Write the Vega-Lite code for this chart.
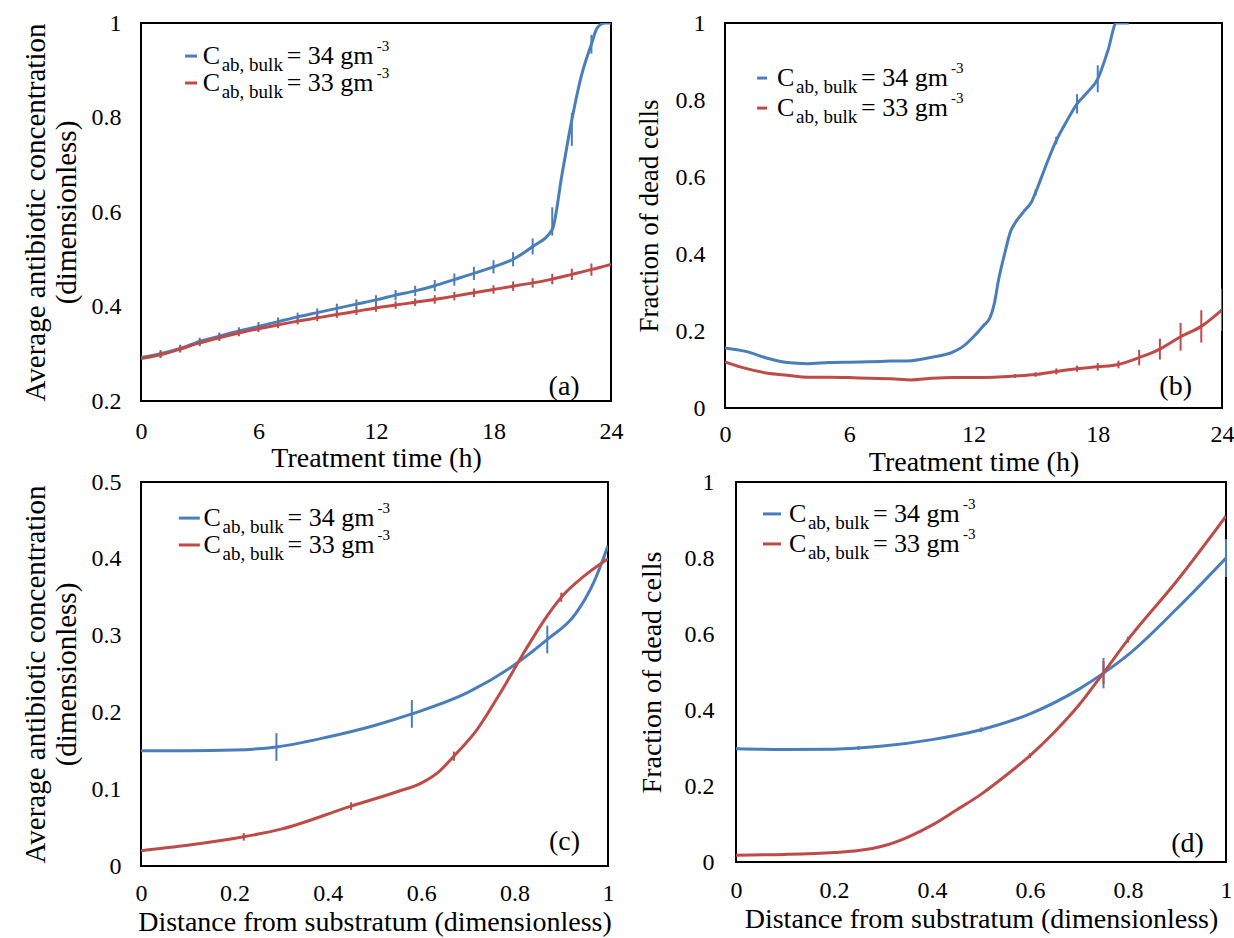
{
 "$schema": "https://vega.github.io/schema/vega-lite/v6.json",
 "background": "white",
 "padding": {"left": 20, "top": 10, "right": 0, "bottom": 0},
 "config": {
  "font": "Liberation Serif, Times New Roman, serif",
  "view": {"stroke": "#000000", "strokeWidth": 2},
  "axis": {"grid": false, "domain": false, "ticks": false, "labelColor": "#000000", "titleColor": "#000000", "labelFont": "Liberation Serif, Times New Roman, serif", "titleFont": "Liberation Serif, Times New Roman, serif", "titleFontWeight": "normal", "labelFontSize": 24, "titleFontSize": 28, "labelFlush": false, "labelOverlap": false, "format": "~g"},
  "text": {"font": "Liberation Serif, Times New Roman, serif", "color": "#000000"}
 },
 "datasets": {
  "one": [{}],
  "a": [
   {"s":"34","x":0,"y":0.292},{"s":"34","x":1,"y":0.300,"lo":0.292,"hi":0.308},{"s":"34","x":2,"y":0.311,"lo":0.303,"hi":0.319},{"s":"34","x":3,"y":0.326,"lo":0.318,"hi":0.334},{"s":"34","x":4,"y":0.337,"lo":0.329,"hi":0.345},{"s":"34","x":5,"y":0.348,"lo":0.340,"hi":0.356},{"s":"34","x":6,"y":0.358,"lo":0.349,"hi":0.367},{"s":"34","x":7,"y":0.368,"lo":0.359,"hi":0.377},{"s":"34","x":8,"y":0.378,"lo":0.369,"hi":0.387},{"s":"34","x":9,"y":0.387,"lo":0.378,"hi":0.396},{"s":"34","x":10,"y":0.396,"lo":0.386,"hi":0.406},{"s":"34","x":11,"y":0.405,"lo":0.395,"hi":0.415},{"s":"34","x":12,"y":0.414,"lo":0.404,"hi":0.424},{"s":"34","x":13,"y":0.424,"lo":0.413,"hi":0.435},{"s":"34","x":14,"y":0.433,"lo":0.422,"hi":0.444},{"s":"34","x":15,"y":0.444,"lo":0.432,"hi":0.456},{"s":"34","x":16,"y":0.457,"lo":0.444,"hi":0.470},{"s":"34","x":17,"y":0.470,"lo":0.456,"hi":0.484},{"s":"34","x":18,"y":0.484,"lo":0.470,"hi":0.498},{"s":"34","x":19,"y":0.500,"lo":0.485,"hi":0.515},{"s":"34","x":20,"y":0.527,"lo":0.510,"hi":0.544},{"s":"34","x":21,"y":0.563,"lo":0.550,"hi":0.610},{"s":"34","x":21.5,"y":0.68},{"s":"34","x":22,"y":0.795,"lo":0.740,"hi":0.810},{"s":"34","x":22.5,"y":0.89},{"s":"34","x":23,"y":0.955,"lo":0.935,"hi":0.975},{"s":"34","x":23.3,"y":0.99},{"s":"34","x":23.7,"y":1.0},{"s":"34","x":24,"y":1.0},
   {"s":"33","x":0,"y":0.290},{"s":"33","x":1,"y":0.298,"lo":0.291,"hi":0.305},{"s":"33","x":2,"y":0.310,"lo":0.303,"hi":0.317},{"s":"33","x":3,"y":0.323,"lo":0.316,"hi":0.330},{"s":"33","x":4,"y":0.334,"lo":0.327,"hi":0.341},{"s":"33","x":5,"y":0.344,"lo":0.337,"hi":0.351},{"s":"33","x":6,"y":0.353,"lo":0.346,"hi":0.360},{"s":"33","x":7,"y":0.361,"lo":0.354,"hi":0.368},{"s":"33","x":8,"y":0.369,"lo":0.362,"hi":0.376},{"s":"33","x":9,"y":0.376,"lo":0.369,"hi":0.383},{"s":"33","x":10,"y":0.383,"lo":0.376,"hi":0.390},{"s":"33","x":11,"y":0.390,"lo":0.382,"hi":0.398},{"s":"33","x":12,"y":0.397,"lo":0.389,"hi":0.405},{"s":"33","x":13,"y":0.403,"lo":0.395,"hi":0.411},{"s":"33","x":14,"y":0.409,"lo":0.401,"hi":0.417},{"s":"33","x":15,"y":0.415,"lo":0.406,"hi":0.424},{"s":"33","x":16,"y":0.422,"lo":0.413,"hi":0.431},{"s":"33","x":17,"y":0.429,"lo":0.420,"hi":0.438},{"s":"33","x":18,"y":0.436,"lo":0.427,"hi":0.445},{"s":"33","x":19,"y":0.443,"lo":0.433,"hi":0.453},{"s":"33","x":20,"y":0.450,"lo":0.440,"hi":0.460},{"s":"33","x":21,"y":0.458,"lo":0.447,"hi":0.469},{"s":"33","x":22,"y":0.468,"lo":0.456,"hi":0.480},{"s":"33","x":23,"y":0.478,"lo":0.465,"hi":0.491},{"s":"33","x":24,"y":0.489}
  ],
  "b": [
   {"s":"34","x":0,"y":0.156},{"s":"34","x":1,"y":0.147},{"s":"34","x":2,"y":0.130},{"s":"34","x":3,"y":0.118},{"s":"34","x":4,"y":0.115},{"s":"34","x":5,"y":0.118},{"s":"34","x":6,"y":0.119},{"s":"34","x":7,"y":0.120},{"s":"34","x":8,"y":0.122},{"s":"34","x":9,"y":0.123},{"s":"34","x":10,"y":0.132},{"s":"34","x":11,"y":0.145},{"s":"34","x":11.5,"y":0.160},{"s":"34","x":12,"y":0.185},{"s":"34","x":12.5,"y":0.215},{"s":"34","x":12.8,"y":0.235},{"s":"34","x":13,"y":0.27},{"s":"34","x":13.2,"y":0.33},{"s":"34","x":13.5,"y":0.40},{"s":"34","x":13.8,"y":0.46},{"s":"34","x":14,"y":0.48},{"s":"34","x":14.5,"y":0.515},{"s":"34","x":14.8,"y":0.535},{"s":"34","x":15,"y":0.56,"lo":0.552,"hi":0.568},{"s":"34","x":15.5,"y":0.63},{"s":"34","x":16,"y":0.695,"lo":0.685,"hi":0.705},{"s":"34","x":16.5,"y":0.745},{"s":"34","x":17,"y":0.79,"lo":0.765,"hi":0.815},{"s":"34","x":17.5,"y":0.82},{"s":"34","x":18,"y":0.855,"lo":0.82,"hi":0.89},{"s":"34","x":18.5,"y":0.93},{"s":"34","x":18.9,"y":1.0},{"s":"34","x":19.5,"y":1.0},
   {"s":"33","x":0,"y":0.120},{"s":"33","x":1,"y":0.103},{"s":"33","x":2,"y":0.091},{"s":"33","x":3,"y":0.085},{"s":"33","x":4,"y":0.080},{"s":"33","x":5,"y":0.080},{"s":"33","x":6,"y":0.079},{"s":"33","x":7,"y":0.077},{"s":"33","x":8,"y":0.076},{"s":"33","x":9,"y":0.073},{"s":"33","x":10,"y":0.077},{"s":"33","x":11,"y":0.079},{"s":"33","x":12,"y":0.079},{"s":"33","x":13,"y":0.080},{"s":"33","x":14,"y":0.083,"lo":0.078,"hi":0.088},{"s":"33","x":15,"y":0.087,"lo":0.081,"hi":0.093},{"s":"33","x":16,"y":0.095,"lo":0.087,"hi":0.103},{"s":"33","x":17,"y":0.102,"lo":0.094,"hi":0.110},{"s":"33","x":18,"y":0.107,"lo":0.097,"hi":0.117},{"s":"33","x":19,"y":0.113,"lo":0.103,"hi":0.123},{"s":"33","x":20,"y":0.131,"lo":0.111,"hi":0.151},{"s":"33","x":21,"y":0.153,"lo":0.126,"hi":0.180},{"s":"33","x":22,"y":0.185,"lo":0.149,"hi":0.221},{"s":"33","x":23,"y":0.212,"lo":0.170,"hi":0.254},{"s":"33","x":24,"y":0.255,"lo":0.200,"hi":0.310}
  ],
  "c": [
   {"s":"34","x":0,"y":0.150},{"s":"34","x":0.1,"y":0.150},{"s":"34","x":0.2,"y":0.151},{"s":"34","x":0.29,"y":0.155,"lo":0.137,"hi":0.173},{"s":"34","x":0.4,"y":0.168},{"s":"34","x":0.5,"y":0.183},{"s":"34","x":0.58,"y":0.198,"lo":0.180,"hi":0.216},{"s":"34","x":0.7,"y":0.226},{"s":"34","x":0.8,"y":0.262},{"s":"34","x":0.87,"y":0.295,"lo":0.277,"hi":0.313},{"s":"34","x":0.93,"y":0.328},{"s":"34","x":0.97,"y":0.37},{"s":"34","x":1.0,"y":0.417},
   {"s":"33","x":0,"y":0.020},{"s":"33","x":0.1,"y":0.027},{"s":"33","x":0.22,"y":0.038,"lo":0.033,"hi":0.043},{"s":"33","x":0.3,"y":0.048},{"s":"33","x":0.45,"y":0.078,"lo":0.073,"hi":0.083},{"s":"33","x":0.55,"y":0.097},{"s":"33","x":0.6,"y":0.108},{"s":"33","x":0.64,"y":0.124},{"s":"33","x":0.67,"y":0.143,"lo":0.137,"hi":0.149},{"s":"33","x":0.72,"y":0.178},{"s":"33","x":0.77,"y":0.226},{"s":"33","x":0.82,"y":0.278},{"s":"33","x":0.86,"y":0.317},{"s":"33","x":0.9,"y":0.350,"lo":0.344,"hi":0.356},{"s":"33","x":0.95,"y":0.378},{"s":"33","x":1.0,"y":0.400}
  ],
  "d": [
   {"s":"34","x":0,"y":0.298},{"s":"34","x":0.1,"y":0.296},{"s":"34","x":0.2,"y":0.297},{"s":"34","x":0.25,"y":0.300,"lo":0.295,"hi":0.305},{"s":"34","x":0.3,"y":0.305},{"s":"34","x":0.4,"y":0.322},{"s":"34","x":0.5,"y":0.348,"lo":0.342,"hi":0.354},{"s":"34","x":0.6,"y":0.390},{"s":"34","x":0.7,"y":0.455},{"s":"34","x":0.75,"y":0.497,"lo":0.457,"hi":0.537},{"s":"34","x":0.8,"y":0.545},{"s":"34","x":0.9,"y":0.667},{"s":"34","x":1.0,"y":0.800,"lo":0.75,"hi":0.85},
   {"s":"33","x":0,"y":0.018},{"s":"33","x":0.1,"y":0.020},{"s":"33","x":0.2,"y":0.025},{"s":"33","x":0.25,"y":0.030},{"s":"33","x":0.3,"y":0.042},{"s":"33","x":0.35,"y":0.065},{"s":"33","x":0.4,"y":0.097},{"s":"33","x":0.45,"y":0.137},{"s":"33","x":0.5,"y":0.178},{"s":"33","x":0.55,"y":0.227},{"s":"33","x":0.6,"y":0.280,"lo":0.274,"hi":0.286},{"s":"33","x":0.65,"y":0.342},{"s":"33","x":0.7,"y":0.413},{"s":"33","x":0.75,"y":0.498,"lo":0.468,"hi":0.528},{"s":"33","x":0.8,"y":0.585,"lo":0.577,"hi":0.593},{"s":"33","x":0.9,"y":0.740},{"s":"33","x":1.0,"y":0.910}
  ]
 },
 "bounds": "full",
 "spacing": -8,
 "vconcat": [
  {
   "bounds": "flush",
   "spacing": 114,
   "hconcat": [
    {
     "width": 470, "height": 378,
     "layer": [
      {"data": {"name": "a"}, "mark": {"type": "line", "interpolate": "monotone", "strokeWidth": 3, "clip": true},
       "encoding": {
        "x": {"field": "x", "type": "quantitative", "scale": {"domain": [0, 24], "nice": false, "zero": false}, "axis": {"values": [0, 6, 12, 18, 24], "title": "Treatment time (h)", "labelPadding": 18, "titlePadding": 1}},
        "y": {"field": "y", "type": "quantitative", "scale": {"domain": [0.2, 1], "nice": false, "zero": false}, "axis": {"values": [0.2, 0.4, 0.6, 0.8, 1], "title": ["Average antibiotic concentration", "(dimensionless)"], "titleFontSize": 29, "labelPadding": 20, "titlePadding": 10}},
        "color": {"field": "s", "type": "nominal", "scale": {"domain": ["34", "33"], "range": ["#4a7ebb", "#be4b48"]}, "legend": null}}},
      {"data": {"name": "a"}, "transform": [{"filter": "isValid(datum.lo)"}], "mark": {"type": "rule", "strokeWidth": 2},
       "encoding": {"x": {"field": "x", "type": "quantitative"}, "y": {"field": "lo", "type": "quantitative"}, "y2": {"field": "hi"}, "color": {"field": "s", "type": "nominal", "legend": null}}},
      {"data": {"name": "one"}, "mark": {"type": "rule", "strokeWidth": 3, "color": "#4a7ebb"}, "encoding": {"x": {"datum": 2.25}, "x2": {"datum": 2.86}, "y": {"datum": 0.93}}},
      {"data": {"name": "one"}, "mark": {"type": "rule", "strokeWidth": 3, "color": "#be4b48"}, "encoding": {"x": {"datum": 2.25}, "x2": {"datum": 2.86}, "y": {"datum": 0.873}}},
      {"data": {"name": "one"}, "mark": {"type": "text", "text": "C", "align": "left", "baseline": "middle", "fontSize": 26}, "encoding": {"x": {"datum": 3.15}, "y": {"datum": 0.93}}},
      {"data": {"name": "one"}, "mark": {"type": "text", "text": "ab, bulk", "align": "left", "baseline": "middle", "fontSize": 19, "dx": 19, "dy": 9}, "encoding": {"x": {"datum": 3.15}, "y": {"datum": 0.93}}},
      {"data": {"name": "one"}, "mark": {"type": "text", "text": "= 34 gm", "align": "left", "baseline": "middle", "fontSize": 26, "dx": 84}, "encoding": {"x": {"datum": 3.15}, "y": {"datum": 0.93}}},
      {"data": {"name": "one"}, "mark": {"type": "text", "text": "-3", "align": "left", "baseline": "middle", "fontSize": 15, "dx": 174, "dy": -10}, "encoding": {"x": {"datum": 3.15}, "y": {"datum": 0.93}}},
      {"data": {"name": "one"}, "mark": {"type": "text", "text": "C", "align": "left", "baseline": "middle", "fontSize": 26}, "encoding": {"x": {"datum": 3.15}, "y": {"datum": 0.873}}},
      {"data": {"name": "one"}, "mark": {"type": "text", "text": "ab, bulk", "align": "left", "baseline": "middle", "fontSize": 19, "dx": 19, "dy": 9}, "encoding": {"x": {"datum": 3.15}, "y": {"datum": 0.873}}},
      {"data": {"name": "one"}, "mark": {"type": "text", "text": "= 33 gm", "align": "left", "baseline": "middle", "fontSize": 26, "dx": 84}, "encoding": {"x": {"datum": 3.15}, "y": {"datum": 0.873}}},
      {"data": {"name": "one"}, "mark": {"type": "text", "text": "-3", "align": "left", "baseline": "middle", "fontSize": 15, "dx": 174, "dy": -10}, "encoding": {"x": {"datum": 3.15}, "y": {"datum": 0.873}}},
      {"data": {"name": "one"}, "mark": {"type": "text", "text": "(a)", "align": "right", "baseline": "middle", "fontSize": 28}, "encoding": {"x": {"datum": 22.4}, "y": {"datum": 0.23}}}
     ]
    },
    {
     "width": 497, "height": 385,
     "layer": [
      {"data": {"name": "b"}, "mark": {"type": "line", "interpolate": "monotone", "strokeWidth": 3, "clip": true},
       "encoding": {
        "x": {"field": "x", "type": "quantitative", "scale": {"domain": [0, 24], "nice": false, "zero": false}, "axis": {"values": [0, 6, 12, 18, 24], "title": "Treatment time (h)", "labelPadding": 14, "titlePadding": 2}},
        "y": {"field": "y", "type": "quantitative", "scale": {"domain": [0, 1], "nice": false}, "axis": {"values": [0, 0.2, 0.4, 0.6, 0.8, 1], "title": "Fraction of dead cells", "titleFontSize": 27, "labelPadding": 20, "titlePadding": 12}},
        "color": {"field": "s", "type": "nominal", "scale": {"domain": ["34", "33"], "range": ["#4a7ebb", "#be4b48"]}, "legend": null}}},
      {"data": {"name": "b"}, "transform": [{"filter": "isValid(datum.lo)"}], "mark": {"type": "rule", "strokeWidth": 2, "clip": true},
       "encoding": {"x": {"field": "x", "type": "quantitative"}, "y": {"field": "lo", "type": "quantitative"}, "y2": {"field": "hi"}, "color": {"field": "s", "type": "nominal", "legend": null}}},
      {"data": {"name": "one"}, "mark": {"type": "rule", "strokeWidth": 3, "color": "#4a7ebb"}, "encoding": {"x": {"datum": 1.55}, "x2": {"datum": 2.03}, "y": {"datum": 0.857}}},
      {"data": {"name": "one"}, "mark": {"type": "rule", "strokeWidth": 3, "color": "#be4b48"}, "encoding": {"x": {"datum": 1.55}, "x2": {"datum": 2.03}, "y": {"datum": 0.779}}},
      {"data": {"name": "one"}, "mark": {"type": "text", "text": "C", "align": "left", "baseline": "middle", "fontSize": 26}, "encoding": {"x": {"datum": 2.51}, "y": {"datum": 0.857}}},
      {"data": {"name": "one"}, "mark": {"type": "text", "text": "ab, bulk", "align": "left", "baseline": "middle", "fontSize": 19, "dx": 19, "dy": 9}, "encoding": {"x": {"datum": 2.51}, "y": {"datum": 0.857}}},
      {"data": {"name": "one"}, "mark": {"type": "text", "text": "= 34 gm", "align": "left", "baseline": "middle", "fontSize": 26, "dx": 84}, "encoding": {"x": {"datum": 2.51}, "y": {"datum": 0.857}}},
      {"data": {"name": "one"}, "mark": {"type": "text", "text": "-3", "align": "left", "baseline": "middle", "fontSize": 15, "dx": 174, "dy": -10}, "encoding": {"x": {"datum": 2.51}, "y": {"datum": 0.857}}},
      {"data": {"name": "one"}, "mark": {"type": "text", "text": "C", "align": "left", "baseline": "middle", "fontSize": 26}, "encoding": {"x": {"datum": 2.51}, "y": {"datum": 0.779}}},
      {"data": {"name": "one"}, "mark": {"type": "text", "text": "ab, bulk", "align": "left", "baseline": "middle", "fontSize": 19, "dx": 19, "dy": 9}, "encoding": {"x": {"datum": 2.51}, "y": {"datum": 0.779}}},
      {"data": {"name": "one"}, "mark": {"type": "text", "text": "= 33 gm", "align": "left", "baseline": "middle", "fontSize": 26, "dx": 84}, "encoding": {"x": {"datum": 2.51}, "y": {"datum": 0.779}}},
      {"data": {"name": "one"}, "mark": {"type": "text", "text": "-3", "align": "left", "baseline": "middle", "fontSize": 15, "dx": 174, "dy": -10}, "encoding": {"x": {"datum": 2.51}, "y": {"datum": 0.779}}},
      {"data": {"name": "one"}, "mark": {"type": "text", "text": "(b)", "align": "right", "baseline": "middle", "fontSize": 28}, "encoding": {"x": {"datum": 22.55}, "y": {"datum": 0.055}}}
     ]
    }
   ]
  },
  {
   "bounds": "flush",
   "spacing": 128,
   "hconcat": [
    {
     "width": 467, "height": 384,
     "layer": [
      {"data": {"name": "c"}, "mark": {"type": "line", "interpolate": "monotone", "strokeWidth": 3, "clip": true},
       "encoding": {
        "x": {"field": "x", "type": "quantitative", "scale": {"domain": [0, 1], "nice": false}, "axis": {"values": [0, 0.2, 0.4, 0.6, 0.8, 1], "title": "Distance from substratum (dimensionless)", "labelPadding": 15, "titlePadding": 3}},
        "y": {"field": "y", "type": "quantitative", "scale": {"domain": [0, 0.5], "nice": false}, "axis": {"values": [0, 0.1, 0.2, 0.3, 0.4, 0.5], "title": ["Average antibiotic concentration", "(dimensionless)"], "titleFontSize": 29, "labelPadding": 20, "titlePadding": 10}},
        "color": {"field": "s", "type": "nominal", "scale": {"domain": ["34", "33"], "range": ["#4a7ebb", "#be4b48"]}, "legend": null}}},
      {"data": {"name": "c"}, "transform": [{"filter": "isValid(datum.lo)"}], "mark": {"type": "rule", "strokeWidth": 2},
       "encoding": {"x": {"field": "x", "type": "quantitative"}, "y": {"field": "lo", "type": "quantitative"}, "y2": {"field": "hi"}, "color": {"field": "s", "type": "nominal", "legend": null}}},
      {"data": {"name": "one"}, "mark": {"type": "rule", "strokeWidth": 3, "color": "#4a7ebb"}, "encoding": {"x": {"datum": 0.081}, "x2": {"datum": 0.126}, "y": {"datum": 0.453}}},
      {"data": {"name": "one"}, "mark": {"type": "rule", "strokeWidth": 3, "color": "#be4b48"}, "encoding": {"x": {"datum": 0.081}, "x2": {"datum": 0.126}, "y": {"datum": 0.418}}},
      {"data": {"name": "one"}, "mark": {"type": "text", "text": "C", "align": "left", "baseline": "middle", "fontSize": 26}, "encoding": {"x": {"datum": 0.134}, "y": {"datum": 0.453}}},
      {"data": {"name": "one"}, "mark": {"type": "text", "text": "ab, bulk", "align": "left", "baseline": "middle", "fontSize": 19, "dx": 19, "dy": 9}, "encoding": {"x": {"datum": 0.134}, "y": {"datum": 0.453}}},
      {"data": {"name": "one"}, "mark": {"type": "text", "text": "= 34 gm", "align": "left", "baseline": "middle", "fontSize": 26, "dx": 84}, "encoding": {"x": {"datum": 0.134}, "y": {"datum": 0.453}}},
      {"data": {"name": "one"}, "mark": {"type": "text", "text": "-3", "align": "left", "baseline": "middle", "fontSize": 15, "dx": 174, "dy": -10}, "encoding": {"x": {"datum": 0.134}, "y": {"datum": 0.453}}},
      {"data": {"name": "one"}, "mark": {"type": "text", "text": "C", "align": "left", "baseline": "middle", "fontSize": 26}, "encoding": {"x": {"datum": 0.134}, "y": {"datum": 0.418}}},
      {"data": {"name": "one"}, "mark": {"type": "text", "text": "ab, bulk", "align": "left", "baseline": "middle", "fontSize": 19, "dx": 19, "dy": 9}, "encoding": {"x": {"datum": 0.134}, "y": {"datum": 0.418}}},
      {"data": {"name": "one"}, "mark": {"type": "text", "text": "= 33 gm", "align": "left", "baseline": "middle", "fontSize": 26, "dx": 84}, "encoding": {"x": {"datum": 0.134}, "y": {"datum": 0.418}}},
      {"data": {"name": "one"}, "mark": {"type": "text", "text": "-3", "align": "left", "baseline": "middle", "fontSize": 15, "dx": 174, "dy": -10}, "encoding": {"x": {"datum": 0.134}, "y": {"datum": 0.418}}},
      {"data": {"name": "one"}, "mark": {"type": "text", "text": "(c)", "align": "right", "baseline": "middle", "fontSize": 28}, "encoding": {"x": {"datum": 0.94}, "y": {"datum": 0.031}}}
     ]
    },
    {
     "width": 490, "height": 380,
     "layer": [
      {"data": {"name": "d"}, "mark": {"type": "line", "interpolate": "monotone", "strokeWidth": 3, "clip": true},
       "encoding": {
        "x": {"field": "x", "type": "quantitative", "scale": {"domain": [0, 1], "nice": false}, "axis": {"values": [0, 0.2, 0.4, 0.6, 0.8, 1], "title": "Distance from substratum (dimensionless)", "labelPadding": 16, "titlePadding": 3}},
        "y": {"field": "y", "type": "quantitative", "scale": {"domain": [0, 1], "nice": false}, "axis": {"values": [0, 0.2, 0.4, 0.6, 0.8, 1], "title": "Fraction of dead cells", "labelPadding": 22, "titlePadding": 18}},
        "color": {"field": "s", "type": "nominal", "scale": {"domain": ["34", "33"], "range": ["#4a7ebb", "#be4b48"]}, "legend": null}}},
      {"data": {"name": "d"}, "transform": [{"filter": "isValid(datum.lo)"}], "mark": {"type": "rule", "strokeWidth": 2},
       "encoding": {"x": {"field": "x", "type": "quantitative"}, "y": {"field": "lo", "type": "quantitative"}, "y2": {"field": "hi"}, "color": {"field": "s", "type": "nominal", "legend": null}}},
      {"data": {"name": "one"}, "mark": {"type": "rule", "strokeWidth": 3, "color": "#4a7ebb"}, "encoding": {"x": {"datum": 0.055}, "x2": {"datum": 0.092}, "y": {"datum": 0.916}}},
      {"data": {"name": "one"}, "mark": {"type": "rule", "strokeWidth": 3, "color": "#be4b48"}, "encoding": {"x": {"datum": 0.055}, "x2": {"datum": 0.092}, "y": {"datum": 0.837}}},
      {"data": {"name": "one"}, "mark": {"type": "text", "text": "C", "align": "left", "baseline": "middle", "fontSize": 26}, "encoding": {"x": {"datum": 0.108}, "y": {"datum": 0.916}}},
      {"data": {"name": "one"}, "mark": {"type": "text", "text": "ab, bulk", "align": "left", "baseline": "middle", "fontSize": 19, "dx": 19, "dy": 9}, "encoding": {"x": {"datum": 0.108}, "y": {"datum": 0.916}}},
      {"data": {"name": "one"}, "mark": {"type": "text", "text": "= 34 gm", "align": "left", "baseline": "middle", "fontSize": 26, "dx": 84}, "encoding": {"x": {"datum": 0.108}, "y": {"datum": 0.916}}},
      {"data": {"name": "one"}, "mark": {"type": "text", "text": "-3", "align": "left", "baseline": "middle", "fontSize": 15, "dx": 174, "dy": -10}, "encoding": {"x": {"datum": 0.108}, "y": {"datum": 0.916}}},
      {"data": {"name": "one"}, "mark": {"type": "text", "text": "C", "align": "left", "baseline": "middle", "fontSize": 26}, "encoding": {"x": {"datum": 0.108}, "y": {"datum": 0.837}}},
      {"data": {"name": "one"}, "mark": {"type": "text", "text": "ab, bulk", "align": "left", "baseline": "middle", "fontSize": 19, "dx": 19, "dy": 9}, "encoding": {"x": {"datum": 0.108}, "y": {"datum": 0.837}}},
      {"data": {"name": "one"}, "mark": {"type": "text", "text": "= 33 gm", "align": "left", "baseline": "middle", "fontSize": 26, "dx": 84}, "encoding": {"x": {"datum": 0.108}, "y": {"datum": 0.837}}},
      {"data": {"name": "one"}, "mark": {"type": "text", "text": "-3", "align": "left", "baseline": "middle", "fontSize": 15, "dx": 174, "dy": -10}, "encoding": {"x": {"datum": 0.108}, "y": {"datum": 0.837}}},
      {"data": {"name": "one"}, "mark": {"type": "text", "text": "(d)", "align": "right", "baseline": "middle", "fontSize": 28}, "encoding": {"x": {"datum": 0.955}, "y": {"datum": 0.047}}}
     ]
    }
   ]
  }
 ]
}
